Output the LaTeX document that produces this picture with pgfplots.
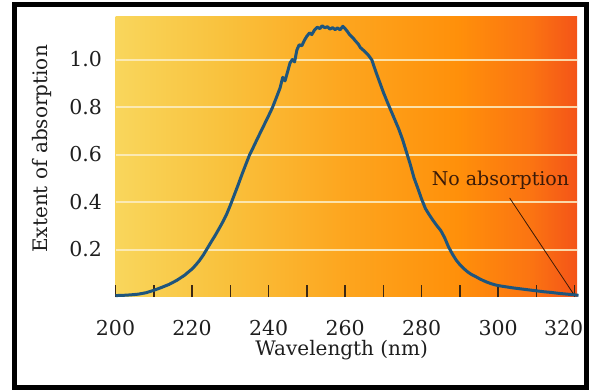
\documentclass[border=0pt]{standalone}
\usepackage{pgfplots}
\pgfplotsset{compat=1.18}
\usepackage{fontspec}
\setmainfont{DejaVu Serif}
\definecolor{gA}{RGB}{249,214,92}
\definecolor{gB}{RGB}{249,193,60}
\definecolor{gC}{RGB}{253,165,30}
\definecolor{gD}{RGB}{255,144,10}
\definecolor{gE}{RGB}{251,116,18}
\definecolor{gF}{RGB}{244,84,24}
\definecolor{curve}{RGB}{30,85,125}
\definecolor{tickc}{RGB}{60,40,20}
\definecolor{txt}{RGB}{30,30,30}
\definecolor{annot}{RGB}{58,26,8}
\definecolor{gridc}{RGB}{252,238,196}
\pgfdeclarehorizontalshading{bggrad}{100bp}{color(0bp)=(gA); color(25bp)=(gA); color(37bp)=(gB); color(50bp)=(gC); color(62bp)=(gD); color(70bp)=(gE); color(75bp)=(gF); color(100bp)=(gF)}
\pgfplotstableread{
x y
200 0.006
202 0.007
204 0.009
206 0.012
208 0.018
210 0.028
212 0.040
214 0.053
216 0.070
218 0.091
220 0.118
221 0.135
222 0.155
223 0.178
224 0.205
225 0.232
226 0.258
227 0.286
228 0.315
229 0.347
230 0.386
231 0.428
232 0.470
233 0.514
234 0.556
235 0.597
236 0.630
237 0.664
238 0.697
239 0.730
240 0.763
241 0.797
242 0.838
243 0.880
243.7 0.925
244.3 0.910
245 0.950
245.6 0.985
246.2 1.000
246.8 0.990
247.4 1.040
248 1.062
248.7 1.058
249.4 1.082
250 1.098
250.7 1.112
251.3 1.105
252 1.124
252.7 1.136
253.4 1.130
254 1.142
254.7 1.134
255.4 1.138
256 1.128
256.7 1.134
257.4 1.126
258 1.133
258.7 1.125
259.4 1.140
260 1.130
260.6 1.118
261.2 1.104
262 1.092
262.7 1.078
263.4 1.066
264 1.050
265 1.036
266 1.020
267 0.998
268 0.950
269 0.906
270 0.862
271 0.822
272 0.784
273 0.746
274 0.708
275 0.664
276 0.612
277 0.560
278 0.502
279 0.458
280 0.412
281 0.372
282 0.346
283 0.322
284 0.300
285 0.280
286 0.250
287 0.212
288 0.182
289 0.156
290 0.136
291 0.120
292 0.106
293 0.095
294 0.087
295 0.078
296 0.070
297 0.063
298 0.057
299 0.052
300 0.048
302 0.043
304 0.038
306 0.034
308 0.030
310 0.026
312 0.022
314 0.019
316 0.015
318 0.012
320 0.009
321 0.007
}\spectrum
\begin{document}
\begin{tikzpicture}
\useasboundingbox (0,0) rectangle (590bp,391bp);
\begin{axis}[
  at={(115.5bp,94bp)}, anchor=south west,
  scale only axis, width=461.5bp, height=280bp,
  xmin=200, xmax=320.6, ymin=0, ymax=1.179,
  axis line style={draw=none},
  axis background/.style={shading=bggrad},
  xtick={200,220,...,300},
  minor xtick={210,230,...,310},
  extra x ticks={320},
  extra x tick style={xticklabel style={xshift=-11bp}},
  xtick pos=left, tick align=inside,
  major tick length=12bp, minor tick length=12bp,
  xtick style={draw=tickc, line width=1.5bp},
  ytick={0.2,0.4,...,1.01},
  ytick style={draw=none},
  ymajorgrids=true,
  major grid style={draw=gridc, line width=2bp, opacity=0.85},
  /pgf/number format/assume math mode=true,
  yticklabel style={/pgf/number format/fixed, /pgf/number format/fixed zerofill, /pgf/number format/precision=1, xshift=-10bp},
  xticklabel style={/pgf/number format/1000 sep={}, yshift=-20bp},
  ticklabel style={font=\fontsize{20.5bp}{24bp}\selectfont, text=txt},
  xlabel={Wavelength (nm)},
  ylabel={Extent of absorption},
  label style={font=\fontsize{20bp}{24bp}\selectfont, text=txt},
  xlabel style={at={(axis description cs:0.49,-0.19)}, anchor=center},
  ylabel style={at={(axis description cs:-0.16,0.529)}, anchor=center},
  clip=false,
]
\addplot[color=curve, line width=3bp, line join=round] table[x=x,y=y] {\spectrum};
\draw[annot, line width=0.8bp] (axis cs:303,0.417) -- (axis cs:319.6,0.015);
\node[annot, font=\fontsize{19bp}{22bp}\selectfont] at (axis cs:300.6,0.49) {No absorption};
\end{axis}
\draw[black, line width=5bp] (14.5bp,3bp) rectangle (586.5bp,386.5bp);
\end{tikzpicture}
\end{document}
